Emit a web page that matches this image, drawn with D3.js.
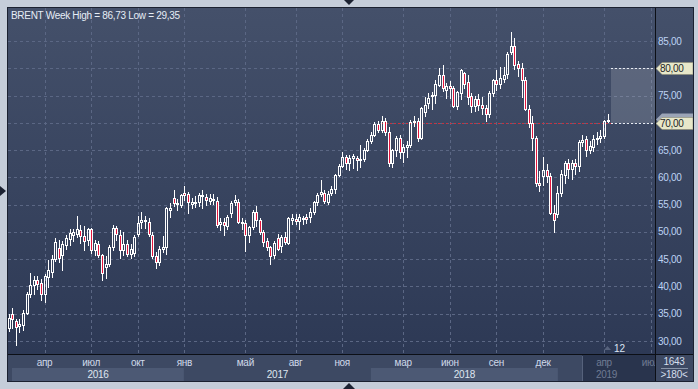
<!DOCTYPE html>
<html>
<head>
<meta charset="utf-8">
<script src="https://cdn.jsdelivr.net/npm/d3@7"></script>
<style>
  body { margin: 0; background: #c5cdd9; }
  svg { display: block; }
  text { font-family: "Liberation Sans", Arial, sans-serif; }
</style>
</head>
<body>
<svg id="chart" width="698" height="389"></svg>
<script>
// weekly Brent candles, first bar = week of 25 Jan 2016
var firstWeek = "2016-01-25";

var weekOpen = [32.3,34.9,33.7,32.7,32.9,35.1,38.7,40.2,41.2,40.6,38.7,41.8,42.7,45.1,47.0,45.8,47.6,48.7,49.4,49.7,
  50.3,49.2,48.6,50.5,46.6,47.8,45.8,43.5,44.2,47.2,50.7,49.4,46.7,47.8,45.9,46.1,49.7,51.9,52.2,51.9,
  49.4,45.6,44.5,46.9,47.2,54.0,56.2,55.3,55.0,57.2,57.0,55.2,55.5,55.5,56.8,56.4,55.6,56.0,55.7,51.5,
  51.9,51.0,53.4,55.4,55.5,51.9,51.7,49.4,50.9,53.7,52.2,49.9,48.3,47.2,45.8,48.8,47.5,49.1,48.0,52.2,
  52.4,52.0,52.4,52.8,52.8,53.7,55.4,56.9,57.2,55.5,57.2,57.8,60.4,62.1,63.7,62.6,63.6,63.5,63.2,63.3,
  65.1,66.7,67.8,69.8,68.7,70.4,68.4,62.6,65.0,67.2,64.7,65.6,65.9,70.2,70.4,67.2,72.0,73.6,74.9,75.1,
  76.9,78.8,76.0,76.7,76.3,73.0,75.4,79.2,77.4,74.9,73.0,74.3,73.3,72.8,71.7,75.4,77.9,77.1,78.0,79.0,
  83.0,84.1,80.7,80.0,77.9,72.6,69.9,67.2,59.0,60.3,61.4,60.3,53.4,53.3,57.2,60.4,62.6,61.5,62.7,62.0,
  66.4,67.0,65.0,65.6,67.0,67.2,67.6,70.4];
var weekHigh = [35.0,36.0,34.0,34.0,35.7,38.9,42.4,41.9,42.0,41.4,42.3,44.8,45.7,48.9,48.5,48.3,49.4,50.5,50.5,52.9,
  51.3,51.0,50.8,50.8,48.5,48.3,46.0,45.5,47.6,51.2,51.0,50.3,49.9,48.6,47.7,49.5,52.9,53.6,53.0,52.6,
  49.9,46.3,47.4,49.2,54.5,55.3,57.6,56.0,57.0,58.4,57.3,56.2,56.6,57.1,57.7,57.0,57.0,56.9,56.4,52.6,
  52.5,53.1,55.6,56.7,56.0,52.6,52.2,51.0,54.0,54.7,52.6,50.4,48.9,47.4,48.4,49.7,49.5,50.0,52.8,53.2,
  53.2,53.3,53.0,53.2,54.4,55.6,57.1,59.5,57.6,57.5,58.4,60.6,62.4,64.6,64.1,64.1,64.3,64.0,65.9,65.4,
  67.1,68.3,70.1,70.4,71.3,70.8,69.2,65.2,67.5,67.8,66.2,66.6,70.6,71.3,70.9,72.9,74.7,75.5,75.7,77.8,
  80.0,80.6,77.3,77.6,76.8,75.9,79.9,79.4,78.7,75.5,74.9,75.3,74.7,73.3,75.8,78.0,79.6,80.3,80.3,83.0,
  86.73,85.5,81.3,81.0,78.4,73.3,71.3,67.6,61.1,63.8,62.4,60.8,54.9,58.4,61.3,63.0,63.4,63.2,63.3,66.8,
  67.7,67.5,66.6,67.7,68.3,68.6,70.5,71.7];
var weekLow = [31.9,32.4,29.35,31.7,32.1,34.9,38.0,38.6,39.6,37.6,37.2,39.9,41.8,44.6,44.5,43.0,46.9,47.6,48.4,49.1,
  48.0,46.7,47.6,46.1,45.7,45.4,41.2,41.5,43.7,46.6,48.6,45.3,45.8,45.5,45.2,45.6,49.3,50.8,50.8,49.3,
  45.2,43.4,43.9,46.3,45.9,52.7,54.7,54.0,54.6,55.8,53.5,54.4,54.5,54.8,54.3,55.0,55.2,55.2,50.9,50.3,
  49.4,50.5,52.8,54.9,51.6,50.6,46.5,48.2,50.6,51.0,49.7,47.5,46.6,44.1,45.3,46.6,46.4,47.8,47.8,51.4,
  51.4,50.6,51.4,51.6,51.9,53.3,54.9,56.6,55.3,55.2,56.8,57.2,60.2,61.9,61.6,61.4,61.8,61.3,61.9,63.0,
  64.9,66.3,67.5,68.3,68.3,67.8,62.0,61.9,64.0,63.6,62.8,63.8,65.6,69.4,66.6,67.0,71.3,72.8,72.6,73.6,
  76.8,75.8,74.5,74.5,72.9,72.6,74.3,76.4,73.4,71.9,72.2,72.4,71.6,70.3,71.0,75.0,76.0,76.4,77.5,78.3,
  82.6,79.9,78.6,74.8,72.3,69.2,65.1,58.4,57.5,58.6,59.1,53.2,50.0,52.8,56.5,59.0,59.9,59.7,60.7,61.1,
  65.7,63.9,64.5,64.8,66.2,66.4,67.3,70.1];
var weekClose = [34.2,34.0,32.6,33.1,35.1,38.7,40.2,41.2,40.4,38.7,42.0,43.0,45.1,48.2,45.2,47.8,48.9,49.8,50.0,50.5,
  49.3,48.4,50.5,46.7,47.9,45.8,42.4,44.2,47.3,50.7,49.6,46.7,47.8,45.9,46.8,49.1,51.7,52.2,52.0,49.6,
  45.6,44.4,46.9,47.2,54.4,54.3,55.3,55.1,56.8,56.8,55.5,55.5,55.4,56.8,56.6,55.8,56.2,55.9,51.3,51.9,
  51.2,52.8,55.3,55.8,51.9,51.7,49.4,50.9,53.7,52.2,49.9,48.2,47.2,45.5,48.0,46.8,49.1,48.1,52.5,52.5,
  52.0,52.7,52.6,52.4,53.7,55.4,56.8,57.4,55.6,57.0,57.8,60.4,62.1,63.7,62.7,63.6,63.9,63.2,63.3,65.1,
  66.7,67.8,69.8,68.7,70.4,68.4,62.6,65.0,67.3,64.7,65.6,65.9,70.2,70.4,67.2,72.7,73.3,74.5,75.1,77.2,
  78.8,76.4,76.7,76.3,73.0,75.7,79.7,77.2,74.8,73.0,74.3,73.3,72.8,71.7,75.4,77.9,77.1,78.2,78.8,82.7,
  84.1,80.6,80.0,77.9,72.5,69.9,67.2,59.0,58.6,61.4,60.3,53.4,52.2,57.2,60.6,62.6,61.5,62.7,62.0,66.4,
  66.9,65.0,65.7,67.0,67.2,67.6,70.4,70.6];

var priceTicks = [30, 35, 40, 45, 50, 55, 60, 65, 70, 75, 80, 85];
var monthTicks = ["2016-04-04","2016-07-04","2016-10-03","2017-01-02","2017-05-01","2017-08-07","2017-11-06",
  "2018-03-05","2018-06-04","2018-09-03","2018-12-03","2019-04-01","2019-07-01"];
var monthNames = ["апр","июл","окт","янв","май","авг","ноя","мар","июн","сен","дек","апр","июл"];
var yearLabels = ["2016", "2017", "2018", "2019"];
var tagPrices = [80, 70];
var levelLine = {from: "2018-01-22", price: 70};
var targetBox = {from: "2019-04-15", lo: 70, hi: 80};
var scrollFrom = "2019-02-18";
var title = "BRENT Week High = 86,73 Low = 29,35";

var W = 698, H = 389,
    padL = 8, padT = 8, plotRight = 655, axisRight = 693,
    plotBottom = 354, frameBottom = 381;

var parse = d3.timeParse("%Y-%m-%d");
var fmt = function(v) { return d3.format(".2f")(v).replace(".", ","); };

var candles = weekOpen.map(function(d, i) {
  return {date: d3.timeWeek.offset(parse(firstWeek), i),
          o: weekOpen[i], h: weekHigh[i], l: weekLow[i], c: weekClose[i]};
});

var x = d3.scaleTime()
    .domain([parse("2016-04-01"), parse("2019-04-01")])
    .range([43, 604]);
var y = d3.scaleLinear().domain([30, 85]).range([341, 41]);
var px = function(d) { return Math.round(x(d)); };
var py = function(v) { return Math.round(y(v)); };

var svg = d3.select("#chart");

var defs = svg.append("defs");
var grad = defs.append("linearGradient").attr("id", "bg").attr("x1", 0).attr("x2", 0).attr("y1", 0).attr("y2", 1);
grad.append("stop").attr("offset", "0%").attr("stop-color", "#44506a");
grad.append("stop").attr("offset", "100%").attr("stop-color", "#2d3955");
defs.append("clipPath").attr("id", "plotClip").append("rect")
  .attr("x", padL).attr("y", padT).attr("width", plotRight - padL).attr("height", plotBottom - padT);
defs.append("clipPath").attr("id", "axisClip").append("rect")
  .attr("x", padL).attr("y", plotBottom).attr("width", plotRight - padL).attr("height", frameBottom - plotBottom);

// background
svg.append("rect").attr("width", W).attr("height", H).attr("fill", "#c5cdd9");
svg.append("rect").attr("x", padL).attr("y", padT).attr("width", axisRight - padL).attr("height", plotBottom - padT)
  .attr("fill", "url(#bg)");
svg.append("rect").attr("x", padL).attr("y", plotBottom).attr("width", axisRight - padL).attr("height", frameBottom - plotBottom)
  .attr("fill", "#3d4963");

// grid
var grid = svg.append("g").attr("clip-path", "url(#plotClip)");
grid.selectAll("line.h").data(priceTicks).enter().append("line")
  .attr("x1", padL).attr("x2", plotRight)
  .attr("y1", function(d) { return py(d) + 0.5; })
  .attr("y2", function(d) { return py(d) + 0.5; })
  .attr("stroke", "#5b6784").attr("stroke-dasharray", "3,3");
grid.selectAll("line.v").data(monthTicks).enter().append("line")
  .attr("x1", function(d) { return px(parse(d)) + 0.5; })
  .attr("x2", function(d) { return px(parse(d)) + 0.5; })
  .attr("y1", padT).attr("y2", plotBottom)
  .attr("stroke", "#5b6784").attr("stroke-dasharray", "3,3");

// target box + level line
var boxX = px(parse(targetBox.from));
grid.append("rect")
  .attr("x", boxX).attr("y", py(targetBox.hi))
  .attr("width", plotRight - boxX).attr("height", py(targetBox.lo) - py(targetBox.hi))
  .attr("fill", "#ffffff").attr("fill-opacity", 0.15);
grid.selectAll("line.box").data([targetBox.hi, targetBox.lo]).enter().append("line")
  .attr("x1", boxX).attr("x2", plotRight)
  .attr("y1", function(d) { return py(d) + 0.5; })
  .attr("y2", function(d) { return py(d) + 0.5; })
  .attr("stroke", "#e8ecf2").attr("stroke-dasharray", "2,2");
grid.append("line")
  .attr("x1", px(parse(levelLine.from))).attr("x2", boxX)
  .attr("y1", py(levelLine.price) + 0.5).attr("y2", py(levelLine.price) + 0.5)
  .attr("stroke", "#c8323f").attr("stroke-dasharray", "2,2");

// candles
var cg = svg.append("g").attr("clip-path", "url(#plotClip)");
var cand = cg.selectAll("g.candle").data(candles).enter().append("g").attr("class", "candle");
cand.append("line")
  .attr("x1", function(d) { return px(d.date) + 0.5; })
  .attr("x2", function(d) { return px(d.date) + 0.5; })
  .attr("y1", function(d) { return py(d.h); })
  .attr("y2", function(d) { return py(Math.max(d.o, d.c)); })
  .attr("stroke", "#ffffff");
cand.append("line")
  .attr("x1", function(d) { return px(d.date) + 0.5; })
  .attr("x2", function(d) { return px(d.date) + 0.5; })
  .attr("y1", function(d) { return py(Math.min(d.o, d.c)); })
  .attr("y2", function(d) { return py(d.l) + 1; })
  .attr("stroke", "#ffffff");
cand.append("rect")
  .attr("x", function(d) { return px(d.date) - 0.5; })
  .attr("y", function(d) { return py(Math.max(d.o, d.c)) + 0.5; })
  .attr("width", 2)
  .attr("height", function(d) { return Math.max(1, py(Math.min(d.o, d.c)) - py(Math.max(d.o, d.c))); })
  .attr("fill", function(d) { return d.c < d.o ? "#e3163d" : "none"; })
  .attr("stroke", "#ffffff");

// time axis
var ax = svg.append("g").attr("clip-path", "url(#axisClip)");
var yearStart = function(yr) { return x(parse(yr + "-01-01")); };
var bandLeft = function(yr) { return Math.max(padL + 4, yearStart(yr)); };
var bandRight = function(yr) { return Math.min(plotRight, yearStart(yr + 1)); };
ax.selectAll("rect.year").data(yearLabels.filter(function(d, i) { return i % 2 === 0; })).enter().append("rect")
  .attr("x", function(d) { return bandLeft(+d); })
  .attr("y", 368)
  .attr("width", function(d) { return bandRight(+d) - bandLeft(+d); })
  .attr("height", frameBottom - 368)
  .attr("fill", "#4c5974");
var scrollX = px(parse(scrollFrom));
ax.append("rect").attr("x", scrollX).attr("y", plotBottom).attr("width", plotRight - scrollX)
  .attr("height", frameBottom - plotBottom).attr("fill", "#29344d");
ax.append("line").attr("x1", scrollX + 0.5).attr("x2", scrollX + 0.5).attr("y1", plotBottom + 2).attr("y2", frameBottom)
  .attr("stroke", "#56627c");
ax.selectAll("text.month").data(monthTicks).enter().append("text")
  .attr("x", function(d) { return x(parse(d)); })
  .attr("y", 366)
  .attr("text-anchor", "middle")
  .attr("font-size", 10).attr("letter-spacing", -0.3)
  .attr("fill", function(d) { return parse(d) >= parse(scrollFrom) ? "#6f7b93" : "#cfd9ea"; })
  .text(function(d, i) { return monthNames[i]; });
ax.selectAll("text.year").data(yearLabels).enter().append("text")
  .attr("x", function(d) { return (bandLeft(+d) + bandRight(+d)) / 2; })
  .attr("y", 378)
  .attr("text-anchor", "middle")
  .attr("font-size", 10).attr("letter-spacing", -0.3)
  .attr("fill", function(d) { return bandRight(+d) > scrollX ? "#6f7b93" : "#dfe6f0"; })
  .text(function(d) { return d; });

// price axis labels (tagged levels are covered by their tags)
svg.selectAll("text.price").data(priceTicks.filter(function(d) { return tagPrices.indexOf(d) < 0; }))
  .enter().append("text")
  .attr("x", 658).attr("y", function(d) { return y(d); }).attr("dy", "0.35em")
  .attr("font-size", 10).attr("letter-spacing", -0.3)
  .attr("fill", "#bdd3f3")
  .text(fmt);

// price tags
var tagPath = function(cy) {
  return "M" + (plotRight + 1) + "," + cy + "L" + (plotRight + 7) + "," + (cy - 6) + "L" + axisRight + "," + (cy - 6)
    + "L" + axisRight + "," + (cy + 6) + "L" + (plotRight + 7) + "," + (cy + 6) + "Z";
};
svg.append("path").attr("d", tagPath(py(70) - 3.5)).attr("fill", "#9ba4b6");
svg.selectAll("g.tag").data(tagPrices).enter().append("g").each(function(d) {
  var g = d3.select(this), cy = py(d) + 0.5;
  g.append("path").attr("d", tagPath(cy)).attr("fill", "#e7e7c9").attr("stroke", "#8c8c74").attr("stroke-width", 0.6);
  g.append("text").attr("x", 660).attr("y", cy).attr("dy", "0.36em")
    .attr("font-size", 10).attr("letter-spacing", -0.3).attr("fill", "#1d1f26").text(fmt(d));
});

// frame lines
svg.append("line").attr("x1", padL).attr("x2", axisRight).attr("y1", plotBottom + 0.5).attr("y2", plotBottom + 0.5).attr("stroke", "#0c0f16");
svg.append("line").attr("x1", plotRight + 0.5).attr("x2", plotRight + 0.5).attr("y1", padT).attr("y2", frameBottom).attr("stroke", "#0c0f16");
svg.append("rect").attr("x", padL - 0.5).attr("y", padT - 0.5).attr("width", axisRight - padL + 1).attr("height", frameBottom - padT + 1)
  .attr("fill", "none").attr("stroke", "#1b2130");

// title
svg.append("text").attr("x", 11).attr("y", 19)
  .attr("font-size", 10).attr("letter-spacing", -0.3).attr("fill", "#e6edf6").text(title);

// bar counter and footer
svg.append("path").attr("d", "M604,350L607.5,346L611,350Z").attr("fill", "#56627c");
svg.append("text").attr("x", 614).attr("y", 352).attr("font-size", 10).attr("fill", "#dce6f4").text("12");
svg.append("text").attr("x", 674).attr("y", 365).attr("text-anchor", "middle").attr("font-size", 10)
  .attr("letter-spacing", -0.3).attr("fill", "#d4deec").text("1643");
svg.append("line").attr("x1", 661).attr("x2", 688).attr("y1", 368.5).attr("y2", 368.5).attr("stroke", "#8894a8");
svg.append("text").attr("x", 674).attr("y", 378).attr("text-anchor", "middle").attr("font-size", 10)
  .attr("letter-spacing", -0.3).attr("fill", "#d4deec").text(">180<");

// window arrows
svg.append("path").attr("d", "M0,186L6,191L0,196Z").attr("fill", "#1c2232");
svg.append("path").attr("d", "M344,0L354,0L349,5Z").attr("fill", "#1c2232");
svg.append("path").attr("d", "M343,389L349,383L355,389Z").attr("fill", "#1c2232");
</script>
</body>
</html>
